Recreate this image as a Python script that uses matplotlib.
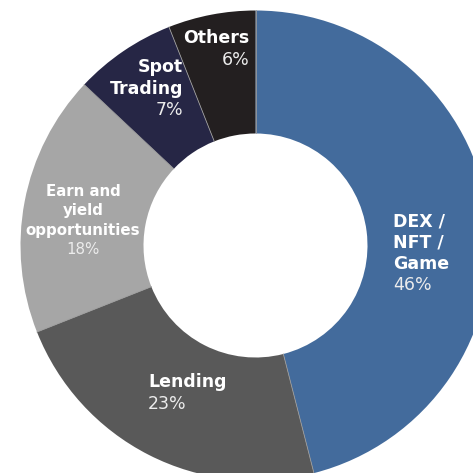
import numpy as np
import matplotlib.pyplot as plt

# Share of activity by category
labels = ['DEX /\nNFT /\nGame', 'Lending', 'Earn and\nyield\nopportunities', 'Spot\nTrading', 'Others']
shares = [46, 23, 18, 7, 6]
colors = ['#436b9c', '#595959', '#a6a6a6', '#262645', '#231f20']

# label anchors in image pixels: (x, first baseline y, align, line step, font size)
label_pos = [
    (393, 226, 'left', 21.5, 12.5),
    (148, 387, 'left', 21.5, 12.5),
    (83, 196, 'center', 19.5, 10.8),
    (183, 72, 'right', 21.5, 12.5),
    (249, 43, 'right', 22, 12.5),
]

W = H = 473
cx, cy, R, r = 255.5, 245.5, 235, 112


def draw_chart():
    fig = plt.figure(figsize=(W / 100, H / 100), dpi=100)
    ax = fig.add_axes([0, 0, 1, 1])
    wedges, _ = ax.pie(shares, colors=colors, radius=R, center=(cx, H - cy),
                       startangle=90, counterclock=False,
                       wedgeprops=dict(width=R - r, linewidth=0))
    # thin separators between the slices
    for w in wedges:
        a = np.deg2rad(w.theta2)
        ax.plot([cx + r * np.cos(a), cx + R * np.cos(a)],
                [H - cy + r * np.sin(a), H - cy + R * np.sin(a)],
                color='#9a9a9a', lw=0.6)
    ax.set_xlim(0, W)
    ax.set_ylim(0, H)
    ax.set_aspect('equal')
    ax.axis('off')

    for lab, val, (x, y0, ha, step, fs) in zip(labels, shares, label_pos):
        lines = lab.split('\n')
        for i, line in enumerate(lines):
            ax.text(x, H - (y0 + i * step), line, ha=ha, va='baseline',
                    fontsize=fs, fontweight='bold', color='white',
                    family='DejaVu Sans')
        ax.text(x, H - (y0 + len(lines) * step), f'{val}%', ha=ha, va='baseline',
                fontsize=fs, fontweight='normal', color='#ececec',
                family='DejaVu Sans')

    fig.savefig('out.png', dpi=100)
    plt.close(fig)


if __name__ == '__main__':
    draw_chart()
